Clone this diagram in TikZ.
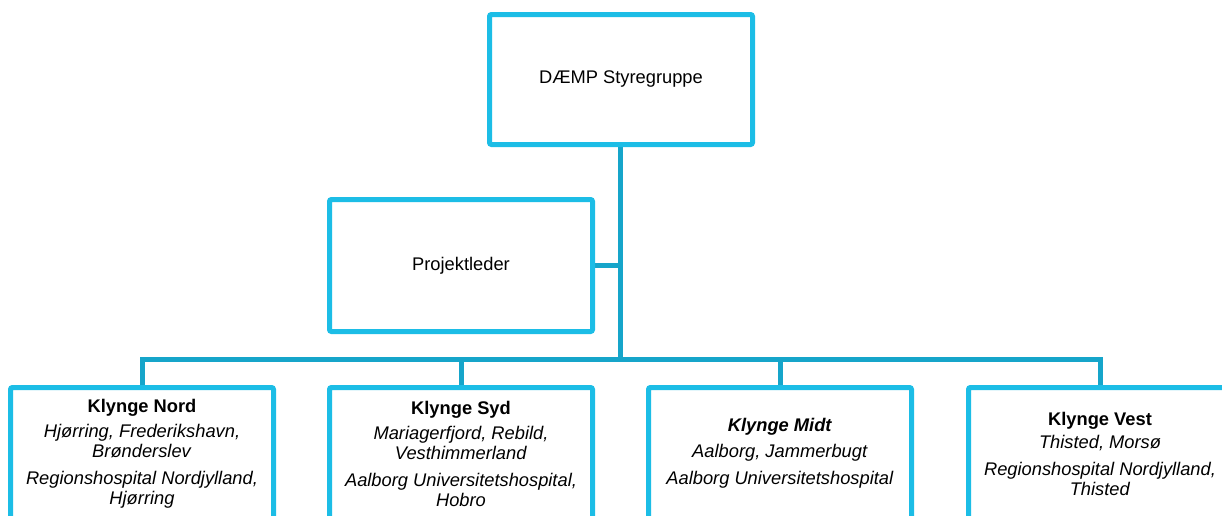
\documentclass[tikz,border=0pt]{standalone}
\usepackage{fontspec}
\setmainfont{Liberation Sans}
\usetikzlibrary{positioning,backgrounds}

\definecolor{boxcyan}{RGB}{28,189,230}
\definecolor{linecyan}{RGB}{22,165,202}

\tikzset{
  orgbox/.style={draw=boxcyan, line width=5pt, rounded corners=2pt, fill=white,
    minimum width=263pt, minimum height=132pt, inner sep=0pt, align=center,
    font=\fontsize{18.3}{20}\selectfont},
  orgline/.style={draw=linecyan, line width=5pt}
}

\begin{document}
\begin{tikzpicture}[x=1pt, y=-1pt]

\useasboundingbox (0,0) rectangle (1222,515);
\clip (0,0) rectangle (1222,515);

% top of the chart
\node [orgbox, minimum height=130pt] (styr) at (621,79.5) {DÆMP Styregruppe};
\node [orgbox] (proj) at (461,265.5) {Projektleder};

% the four clusters
\node [orgbox] (nord) at (142,453.5) {\textbf{Klynge Nord}\\[5pt]
  \textit{Hjørring, Frederikshavn,}\\ \textit{Brønderslev}\\[7pt]
  \textit{Regionshospital Nordjylland,}\\ \textit{Hjørring}};
\node [orgbox] (syd) at (461,453.5) {\textbf{Klynge Syd}\\[5pt]
  \textit{Mariagerfjord, Rebild,}\\ \textit{Vesthimmerland}\\[7pt]
  \textit{Aalborg Universitetshospital,}\\ \textit{Hobro}};
\node [orgbox] (midt) at (780,453.5) {\textbf{\textit{Klynge Midt}}\\[6pt]
  \textit{Aalborg, Jammerbugt}\\[7pt]
  \textit{Aalborg Universitetshospital}};
\node [orgbox] (vest) at (1100,453.5) {\textbf{Klynge Vest}\\[3pt]
  \textit{Thisted, Morsø}\\[7pt]
  \textit{Regionshospital Nordjylland,}\\ \textit{Thisted}};

\coordinate (bus) at (620,359);

% connectors go behind the boxes
\begin{scope}[on background layer]
\draw [orgline] (styr.south -| bus) -- (bus);
\draw [orgline] (proj.east) -- (proj.east -| bus);
\draw [orgline] (nord.north) |- (bus) -| (vest.north);
\draw [orgline] (syd.north) -- (syd.north |- bus);
\draw [orgline] (midt.north) -- (midt.north |- bus);
\end{scope}

\end{tikzpicture}
\end{document}
